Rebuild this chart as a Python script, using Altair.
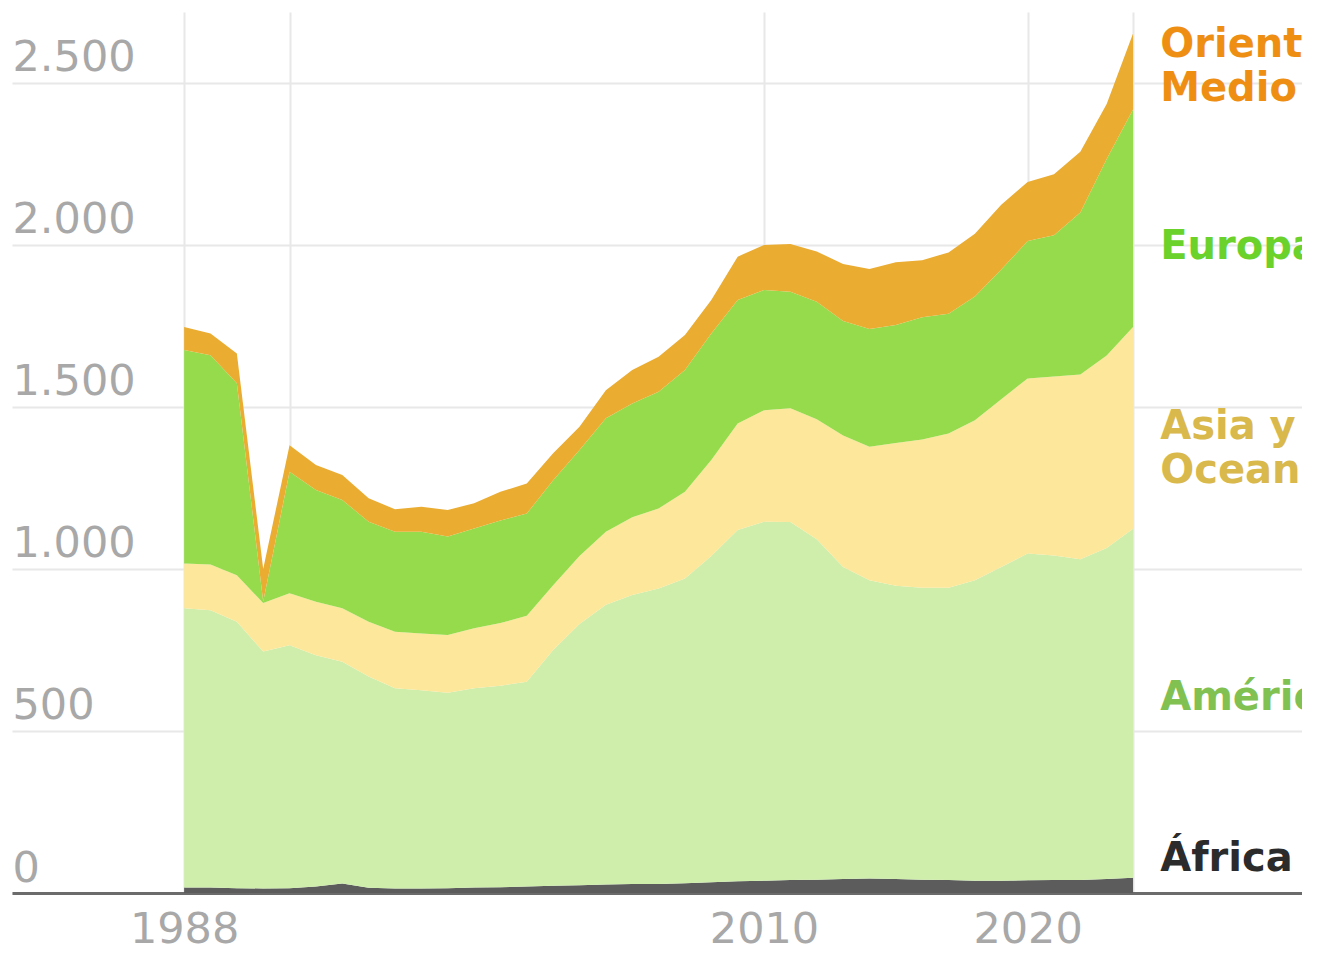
import altair as alt
import pandas as pd

years = list(range(1988, 2025))

africa = [17, 17, 15, 14, 15, 20, 29, 16, 14, 14, 15, 17, 18, 20, 22, 24, 26, 28, 28, 30,
          33, 36, 38, 40, 41, 43, 45, 43, 41, 40, 38, 38, 39, 40, 40, 43, 47]
america = [862, 856, 822, 731, 750, 714, 685, 652, 618, 612, 603, 615, 622, 632, 728, 806,
           864, 892, 912, 941, 1007, 1084, 1108, 1105, 1051, 963, 920, 905, 901, 902, 927,
           968, 1009, 1002, 990, 1022, 1077]
asia = [138, 141, 144, 150, 160, 165, 165, 169, 174, 175, 178, 185, 193, 204, 200, 210,
        225, 240, 247, 267, 296, 329, 344, 351, 370, 406, 412, 441, 458, 476, 494, 518,
        540, 552, 570, 594, 623]
europa = [659, 646, 592, 5, 375, 345, 334, 309, 309, 314, 304, 308, 317, 315, 324, 327,
          350, 351, 360, 376, 391, 381, 371, 360, 363, 353, 364, 364, 377, 370, 382, 400,
          424, 436, 500, 606, 671]
oriente = [71, 67, 92, 100, 82, 77, 77, 72, 69, 77, 82, 78, 88, 93, 83, 72, 87, 103, 108,
           108, 103, 134, 139, 147, 155, 176, 185, 194, 176, 189, 194, 200, 182, 188, 188,
           170, 235]

regions = ["África", "América", "Asia y Oceanía", "Europa", "Oriente Medio"]
area_colors = ["#5c5c5c", "#cfeeac", "#fce79b", "#96db4c", "#eaac31"]
series = [africa, america, asia, europa, oriente]

label_text = ["Oriente\nMedio", "Europa", "Asia y\nOceanía", "América", "África"]
label_y = [2617, 1994, 1438, 602, 105]
label_colors = ["#ee8f14", "#6ad22a", "#d9b84c", "#80c152", "#2b2b2b"]
label_x = 2025.03

x_domain = [1981.47, 2030.41]
y_domain = [0, 2719]
x_grid = [1988, 1992, 2010, 2020, 2024]
x_labels = [1988, 2010, 2020]
y_ticks = [0, 500, 1000, 1500, 2000, 2500]

rows = []
for i, (name, vals) in enumerate(zip(regions, series)):
    for yr, v in zip(years, vals):
        rows.append({"year": yr, "region": name, "value": v, "ord": i})
df = pd.DataFrame(rows)

lab_df = pd.DataFrame({
    "year": [label_x] * len(label_text),
    "value": label_y,
    "text": label_text,
    "c": label_colors,
})

xscale = alt.Scale(domain=x_domain, nice=False, zero=False)
yscale = alt.Scale(domain=y_domain, nice=False, zero=True)

label_list = "[" + ",".join(str(v) for v in x_labels) + "]"

x_axis = alt.Axis(
    values=x_grid,
    labelExpr=f"indexof({label_list}, datum.value) >= 0 ? format(datum.value, 'd') : ''",
    grid=True, gridColor="#e8e8e8", gridWidth=2,
    domain=True, domainColor="#6b6b6b", domainWidth=3,
    ticks=False, tickSize=0,
    labelFont="DejaVu Sans", labelFontSize=43, labelColor="#a8a8a8",
    labelPadding=15, labelFlush=False, labelOverlap=False, title=None,
)
y_axis = alt.Axis(
    values=y_ticks,
    labelExpr="replace(format(datum.value, ','), ',', '.')",
    grid=True, gridColor="#e8e8e8", gridWidth=2,
    domain=False, ticks=False, tickSize=0,
    labelAlign="left", labelBaseline="alphabetic", labelPadding=0, labelOffset=-12,
    labelFont="DejaVu Sans", labelFontSize=43, labelColor="#a8a8a8",
    labelFlush=False, labelOverlap=False, title=None,
)

areas = alt.Chart(df).mark_area(interpolate="linear").encode(
    x=alt.X("year:Q", scale=xscale, axis=x_axis),
    y=alt.Y("value:Q", stack="zero", scale=yscale, axis=y_axis),
    color=alt.Color("region:N", scale=alt.Scale(domain=regions, range=area_colors), legend=None),
    order=alt.Order("ord:Q", sort="ascending"),
)

labels = alt.Chart(lab_df).mark_text(
    align="left", baseline="middle", font="DejaVu Sans", fontWeight="bold",
    fontSize=40, lineBreak="\n", lineHeight=44, clip=True,
).encode(
    x=alt.X("year:Q", scale=xscale, axis=x_axis),
    y=alt.Y("value:Q", scale=yscale, axis=y_axis),
    text="text:N",
    color=alt.Color("c:N", scale=None),
)

chart = alt.layer(areas, labels).properties(
    width=1290, height=881,
    padding={"left": 4, "top": 4, "right": 0, "bottom": 52},
    autosize=alt.AutoSizeParams(type="none"),
).configure_view(stroke=None)

chart.save("out.html", embed_options={"renderer": "svg", "actions": False})
